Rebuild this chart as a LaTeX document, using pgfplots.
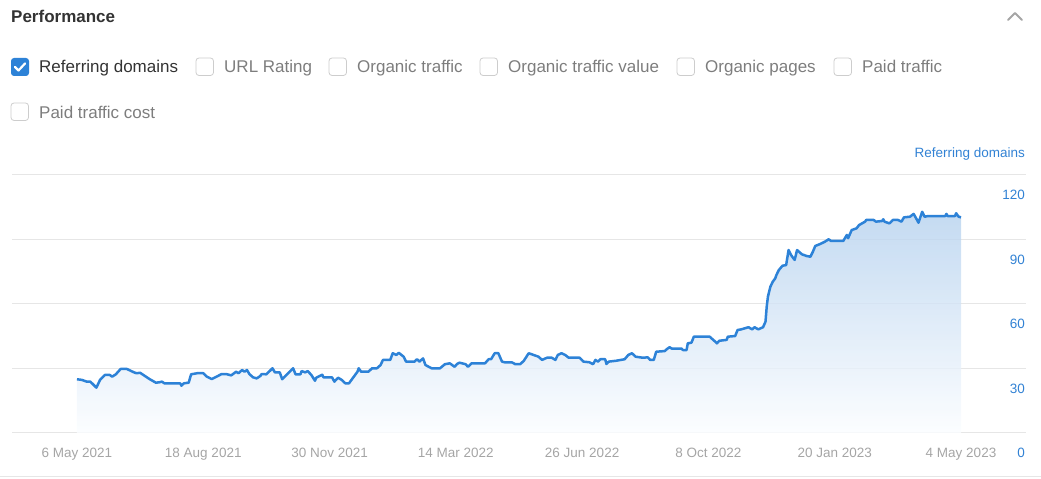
\documentclass[border=0pt]{standalone}
\usepackage{pgfplots}
\pgfplotsset{compat=1.18}
\usepackage{pgfplotstable}
\usepackage{fontspec}
\setmainfont{Liberation Sans}

\definecolor{lineblue}{RGB}{45,130,215}
\definecolor{labelblue}{RGB}{50,130,212}
\definecolor{areatop}{RGB}{181,209,238}
\definecolor{areabot}{RGB}{251,253,255}
\definecolor{gridgray}{RGB}{230,230,230}
\definecolor{ticksgray}{RGB}{165,165,165}
\definecolor{optgray}{RGB}{125,125,125}
\definecolor{boxgray}{RGB}{205,205,205}
\definecolor{titledark}{RGB}{51,51,51}

% referring domains, x = days since 6 May 2021
\pgfplotstableread{
day val
0 25.0
4 24.7
8 23.9
11 23.9
16 21.1
19 24.7
23 27.0
27 27.0
29 26.2
32 27.3
36 29.8
41 29.8
44 29.0
47 28.2
49 27.8
52 28.0
56 26.5
60 25.0
65 23.4
68 23.6
70 23.9
72 23.1
85 23.1
86 22.0
88 23.1
92 23.4
94 27.3
99 27.8
104 27.8
107 26.2
111 25.1
115 26.2
119 27.4
123 27.4
127 26.8
131 28.5
133 27.8
136 29.3
138 28.5
140 29.3
142 27.4
145 25.9
148 25.4
151 26.5
152 27.4
156 27.3
161 30.1
163 28.2
167 28.2
169 25.0
173 27.3
178 30.1
180 27.3
184 27.3
185 28.8
188 28.2
190 28.8
193 27.0
196 24.3
197 25.7
202 27.1
203 25.9
210 25.9
212 23.9
215 25.7
218 24.7
221 23.1
224 23.1
228 26.2
231 28.5
232 30.1
234 28.5
240 28.5
243 30.1
247 30.1
250 31.6
252 34.0
258 34.0
260 37.1
263 36.3
265 37.3
269 35.5
271 33.2
278 33.2
280 34.3
282 33.2
285 34.7
287 31.6
292 30.1
299 30.1
303 32.0
307 32.4
309 31.6
311 30.8
313 32.1
315 32.7
320 32.0
322 30.8
325 32.4
336 32.4
339 34.3
341 34.3
344 37.1
347 37.1
350 33.2
352 32.9
358 32.9
361 32.0
365 32.0
368 33.6
372 37.1
376 36.3
380 35.5
383 34.0
387 35.0
391 35.0
394 34.0
396 36.3
399 37.1
402 36.3
405 35.0
414 35.0
417 33.2
422 32.9
425 32.0
427 34.0
429 33.2
431 34.3
435 34.3
436 32.1
438 33.2
444 33.6
451 34.3
454 36.3
457 37.1
460 35.5
466 35.0
470 35.2
472 34.0
475 34.0
477 37.8
484 38.1
486 39.1
488 39.9
490 39.2
498 39.2
499 38.6
502 38.6
503 41.7
506 42.0
508 44.8
521 44.8
525 42.8
527 41.7
529 42.9
535 43.3
536 44.8
542 45.1
544 47.9
547 48.2
550 48.7
553 49.2
556 48.2
558 49.2
561 48.2
565 49.2
567 51.8
568 58.7
569 63.4
571 68.0
573 70.4
575 71.9
576 73.5
578 75.8
581 77.8
584 78.1
586 85.1
588 82.8
591 80.5
593 85.1
597 83.1
601 82.3
604 82.0
606 84.3
608 87.0
612 87.9
616 89.0
619 90.1
621 89.3
631 89.3
634 92.1
635 90.6
638 94.4
642 95.2
644 96.7
649 98.3
650 99.1
656 99.1
658 98.3
663 98.6
664 99.4
665 98.3
669 97.5
672 99.1
676 99.1
679 98.3
681 100.3
686 100.6
689 101.9
691 99.9
693 97.8
696 102.9
698 100.6
701 100.9
715 100.9
716 101.9
717 100.9
723 100.9
724 102.2
726 100.6
728 100.3
}\refdomains

\newcommand{\optfont}{\fontsize{17bp}{20bp}\selectfont}
\newcommand{\smallfont}{\fontsize{13.5bp}{16bp}\selectfont}

\begin{document}
\begin{tikzpicture}[x=1bp,y=1bp]
  \useasboundingbox (0,0) rectangle (1041,479);

  % header
  \node[anchor=base west, inner sep=0pt, text=titledark, font=\fontsize{17bp}{20bp}\selectfont\bfseries]
    at (11,456) {Performance};
  \draw[ticksgray, line width=2bp, line cap=round, line join=round]
    (1008,459) -- (1015,466) -- (1022,459);

  % checkboxes, row 1
  \fill[lineblue, rounded corners=3bp] (11,403) rectangle (29,421);
  \draw[white, line width=2.2bp, line cap=round, line join=round]
    (15,412) -- (18.5,408.5) -- (25,415.5);
  \node[anchor=base west, inner sep=0pt, text=titledark, font=\optfont] at (39,406) {Referring domains};
  \foreach \bx/\lbl in {196/URL Rating, 329/Organic traffic, 480/Organic traffic value, 677/Organic pages, 834/Paid traffic}{
    \draw[boxgray, line width=0.8bp, rounded corners=3bp] (\bx,403.5) rectangle ++(17.5,17.5);
    \node[anchor=base west, inner sep=0pt, text=optgray, font=\optfont] at (\bx+28,406) {\lbl};
  }
  % row 2
  \draw[boxgray, line width=0.8bp, rounded corners=3bp] (11,358.5) rectangle ++(17.5,17.5);
  \node[anchor=base west, inner sep=0pt, text=optgray, font=\optfont] at (39,360) {Paid traffic cost};

  % series name above the axis
  \node[anchor=base east, inner sep=0pt, text=labelblue, font=\smallfont] at (1025,321.5) {Referring domains};

  % bottom separator
  \draw[gridgray, line width=1bp] (0,2) -- (1041,2);

  \begin{axis}[
      at={(12bp,46bp)}, anchor=south west,
      scale only axis,
      width=1014bp, height=258bp,
      xmin=-53.5, xmax=781.5,
      ymin=0, ymax=120,
      axis line style={draw=none},
      major tick length=0pt,
      xtick={0,104,208,312,416,520,624,728},
      xticklabels={6 May 2021,18 Aug 2021,30 Nov 2021,14 Mar 2022,26 Jun 2022,8 Oct 2022,20 Jan 2023,4 May 2023},
      xticklabel style={font=\smallfont, text=ticksgray, anchor=north, inner sep=0pt, yshift=-14.5bp},
      ytick={0,30,60,90,120},
      yticklabels={0,30,60,90,120},
      yticklabel pos=right,
      yticklabel style={font=\smallfont, text=labelblue, anchor=north east, inner sep=0pt, xshift=-1bp, yshift=-15bp},
      ymajorgrids=true,
      grid style={gridgray, line width=1bp},
      clip=false,
    ]
    \addplot[draw=none, top color=areatop, bottom color=areabot, fill opacity=0.8]
      table[x=day, y=val] {\refdomains} \closedcycle;
    \addplot[lineblue, line width=2.5bp, line join=round, mark=none]
      table[x=day, y=val] {\refdomains};
  \end{axis}
\end{tikzpicture}
\end{document}
